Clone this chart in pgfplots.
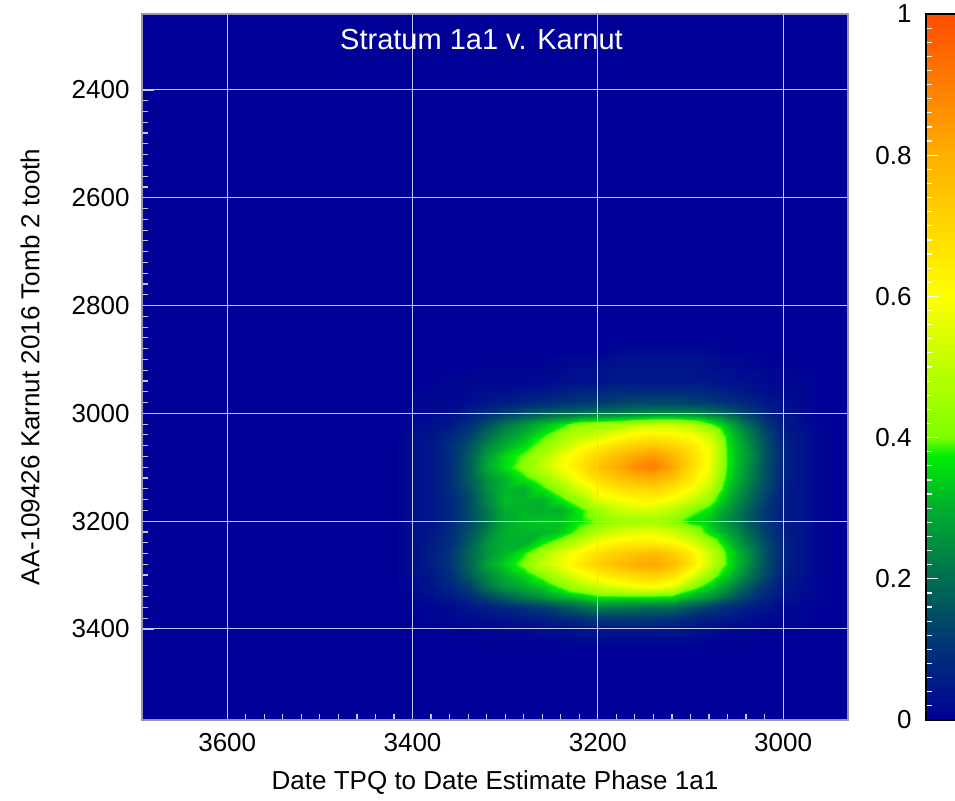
\documentclass[border=0pt]{standalone}
\usepackage{fontspec}
\setmainfont{Liberation Sans}
\usepackage{pgfplots}
\pgfplotsset{compat=1.18}
\definecolor{bg}{RGB}{0,0,150}
\definecolor{gridc}{RGB}{200,200,255}
\definecolor{framec}{RGB}{150,150,180}
\pgfplotsset{
  every tick label/.append style={font=\fontsize{13}{15}\selectfont},
  /pgf/number format/assume math mode=true,
  /pgf/number format/1000 sep={},
  colormap={oxcal}{
    rgb255=(0,0,150) rgb255=(0,13,143) rgb255=(0,25,135) rgb255=(0,38,128)
    rgb255=(0,50,120) rgb255=(0,65,110) rgb255=(0,80,100) rgb255=(0,95,90)
    rgb255=(0,110,80) rgb255=(0,126,71) rgb255=(0,143,63) rgb255=(0,159,54)
    rgb255=(0,175,45) rgb255=(0,193,33) rgb255=(0,216,19) rgb255=(0,237,5)
    rgb255=(126,255,0) rgb255=(142,255,0) rgb255=(158,255,0) rgb255=(174,255,0)
    rgb255=(190,255,0) rgb255=(206,255,0) rgb255=(223,255,0) rgb255=(239,255,0)
    rgb255=(255,255,0) rgb255=(255,245,0) rgb255=(255,235,0) rgb255=(255,225,0)
    rgb255=(255,215,0) rgb255=(255,205,0) rgb255=(255,195,0) rgb255=(255,185,0)
    rgb255=(255,175,0) rgb255=(255,163,0) rgb255=(255,150,0) rgb255=(255,138,0)
    rgb255=(255,125,0) rgb255=(255,113,0) rgb255=(255,100,0) rgb255=(255,88,0)
    rgb255=(255,75,0)},
}
\begin{document}
\begin{tikzpicture}
\begin{axis}[
  scale only axis, width=353pt, height=353pt,
  x dir=reverse, y dir=reverse,
  xmin=2930, xmax=3692, ymin=2259, ymax=3569,
  enlargelimits=false,
  axis on top,
  axis background/.style={fill=bg},
  xtick={3000,3200,3400,3600}, ytick={2400,2600,2800,3000,3200,3400},
  minor x tick num=9, minor y tick num=9,
  xtick pos=bottom, ytick pos=left, tick align=inside,
  major tick length=6pt, minor tick length=3pt,
  every tick/.style={draw=gridc, line width=0.6pt},
  grid=major, major grid style={draw=gridc, line width=0.5pt},
  axis line style={draw=framec, line width=0.6pt},
  xticklabel style={yshift=-3pt},
  yticklabel style={xshift=-2.7pt},
  xlabel={Date TPQ to Date Estimate Phase 1a1},
  ylabel={AA-109426 Karnut 2016 Tomb 2 tooth},
  xlabel style={at={([yshift=-31.5pt]axis description cs:0.5,0)}, anchor=center, font=\fontsize{13}{15}\selectfont},
  ylabel style={at={([xshift=-56pt]axis description cs:0,0.5)}, anchor=center, font=\fontsize{13}{15}\selectfont},
  title={Stratum 1a1 v. Karnut},
  title style={at={([yshift=-24pt]axis description cs:0.4809,1)}, anchor=base, text=white, font=\fontsize{14.5}{16}\selectfont},
  colormap name=oxcal, point meta min=0, point meta max=1,
  colorbar right,
  colorbar style={
    at={(parent axis.north east)}, anchor=north west, xshift=30.5pt,
    scale only axis, width=24pt, height=353pt,
    ytick={0,0.2,0.4,0.6,0.8,1}, minor y tick num=9,
    ytick pos=left, yticklabel pos=left, tick align=inside,
    major tick length=6pt, minor tick length=3pt,
    every tick/.style={draw=white, line width=0.6pt},
    yticklabel style={xshift=-3.7pt},
    axis line style={draw=black, line width=0.6pt},
  },
]
\addplot[surf, shader=interp, mesh/cols=25, point meta=explicit] coordinates {
(3420,2860)[0] (3400,2860)[0] (3380,2860)[0] (3360,2860)[0] (3340,2860)[0] (3320,2860)[0] (3300,2860)[0] (3280,2860)[0] (3260,2860)[0] (3240,2860)[0] (3220,2860)[0] (3200,2860)[0] (3180,2860)[0] (3160,2860)[0] (3140,2860)[0] (3120,2860)[0] (3100,2860)[0] (3080,2860)[0] (3060,2860)[0] (3040,2860)[0] (3020,2860)[0] (3000,2860)[0] (2980,2860)[0] (2960,2860)[0] (2940,2860)[0]
(3420,2880)[0] (3400,2880)[0] (3380,2880)[0] (3360,2880)[0] (3340,2880)[0] (3320,2880)[0] (3300,2880)[0] (3280,2880)[0] (3260,2880)[0] (3240,2880)[0] (3220,2880)[0] (3200,2880)[0] (3180,2880)[0.015] (3160,2880)[0.015] (3140,2880)[0.015] (3120,2880)[0.015] (3100,2880)[0.015] (3080,2880)[0.015] (3060,2880)[0] (3040,2880)[0] (3020,2880)[0] (3000,2880)[0] (2980,2880)[0] (2960,2880)[0] (2940,2880)[0]
(3420,2900)[0] (3400,2900)[0] (3380,2900)[0] (3360,2900)[0] (3340,2900)[0] (3320,2900)[0] (3300,2900)[0] (3280,2900)[0] (3260,2900)[0] (3240,2900)[0.015] (3220,2900)[0.015] (3200,2900)[0.015] (3180,2900)[0.03] (3160,2900)[0.03] (3140,2900)[0.03] (3120,2900)[0.03] (3100,2900)[0.03] (3080,2900)[0.03] (3060,2900)[0.015] (3040,2900)[0.015] (3020,2900)[0] (3000,2900)[0] (2980,2900)[0] (2960,2900)[0] (2940,2900)[0]
(3420,2920)[0] (3400,2920)[0] (3380,2920)[0] (3360,2920)[0] (3340,2920)[0] (3320,2920)[0.015] (3300,2920)[0.015] (3280,2920)[0.015] (3260,2920)[0.015] (3240,2920)[0.015] (3220,2920)[0.03] (3200,2920)[0.03] (3180,2920)[0.045] (3160,2920)[0.045] (3140,2920)[0.045] (3120,2920)[0.045] (3100,2920)[0.045] (3080,2920)[0.03] (3060,2920)[0.03] (3040,2920)[0.015] (3020,2920)[0.015] (3000,2920)[0.015] (2980,2920)[0] (2960,2920)[0] (2940,2920)[0]
(3420,2940)[0] (3400,2940)[0] (3380,2940)[0] (3360,2940)[0.015] (3340,2940)[0.015] (3320,2940)[0.015] (3300,2940)[0.015] (3280,2940)[0.015] (3260,2940)[0.015] (3240,2940)[0.03] (3220,2940)[0.03] (3200,2940)[0.03] (3180,2940)[0.045] (3160,2940)[0.045] (3140,2940)[0.045] (3120,2940)[0.045] (3100,2940)[0.045] (3080,2940)[0.045] (3060,2940)[0.03] (3040,2940)[0.03] (3020,2940)[0.015] (3000,2940)[0.015] (2980,2940)[0.015] (2960,2940)[0] (2940,2940)[0]
(3420,2960)[0] (3400,2960)[0] (3380,2960)[0.015] (3360,2960)[0.015] (3340,2960)[0.015] (3320,2960)[0.03] (3300,2960)[0.03] (3280,2960)[0.045] (3260,2960)[0.045] (3240,2960)[0.06] (3220,2960)[0.075] (3200,2960)[0.075] (3180,2960)[0.09] (3160,2960)[0.09] (3140,2960)[0.09] (3120,2960)[0.09] (3100,2960)[0.09] (3080,2960)[0.075] (3060,2960)[0.06] (3040,2960)[0.045] (3020,2960)[0.03] (3000,2960)[0.015] (2980,2960)[0.015] (2960,2960)[0] (2940,2960)[0]
(3420,2980)[0] (3400,2980)[0.015] (3380,2980)[0.015] (3360,2980)[0.015] (3340,2980)[0.03] (3320,2980)[0.045] (3300,2980)[0.06] (3280,2980)[0.075] (3260,2980)[0.09] (3240,2980)[0.10] (3220,2980)[0.11] (3200,2980)[0.12] (3180,2980)[0.13] (3160,2980)[0.14] (3140,2980)[0.14] (3120,2980)[0.14] (3100,2980)[0.13] (3080,2980)[0.12] (3060,2980)[0.10] (3040,2980)[0.08] (3020,2980)[0.05] (3000,2980)[0.03] (2980,2980)[0.015] (2960,2980)[0] (2940,2980)[0]
(3420,3000)[0] (3400,3000)[0.015] (3380,3000)[0.015] (3360,3000)[0.03] (3340,3000)[0.06] (3320,3000)[0.09] (3300,3000)[0.12] (3280,3000)[0.15] (3260,3000)[0.17] (3240,3000)[0.19] (3220,3000)[0.20] (3200,3000)[0.21] (3180,3000)[0.22] (3160,3000)[0.23] (3140,3000)[0.24] (3120,3000)[0.24] (3100,3000)[0.23] (3080,3000)[0.21] (3060,3000)[0.17] (3040,3000)[0.12] (3020,3000)[0.07] (3000,3000)[0.04] (2980,3000)[0.025] (2960,3000)[0] (2940,3000)[0]
(3420,3020)[0] (3400,3020)[0.015] (3380,3020)[0.03] (3360,3020)[0.045] (3340,3020)[0.09] (3320,3020)[0.15] (3300,3020)[0.21] (3280,3020)[0.26] (3260,3020)[0.31] (3240,3020)[0.36] (3220,3020)[0.43] (3200,3020)[0.44] (3180,3020)[0.46] (3160,3020)[0.49] (3140,3020)[0.51] (3120,3020)[0.51] (3100,3020)[0.48] (3080,3020)[0.40] (3060,3020)[0.30] (3040,3020)[0.20] (3020,3020)[0.11] (3000,3020)[0.05] (2980,3020)[0.025] (2960,3020)[0.01] (2940,3020)[0]
(3420,3040)[0] (3400,3040)[0.03] (3380,3040)[0.045] (3360,3040)[0.075] (3340,3040)[0.12] (3320,3040)[0.20] (3300,3040)[0.26] (3280,3040)[0.31] (3260,3040)[0.374] (3240,3040)[0.445] (3220,3040)[0.49] (3200,3040)[0.53] (3180,3040)[0.58] (3160,3040)[0.62] (3140,3040)[0.64] (3120,3040)[0.62] (3100,3040)[0.60] (3080,3040)[0.52] (3060,3040)[0.35] (3040,3040)[0.245] (3020,3040)[0.14] (3000,3040)[0.06] (2980,3040)[0.037] (2960,3040)[0.01] (2940,3040)[0]
(3420,3060)[0] (3400,3060)[0.03] (3380,3060)[0.045] (3360,3060)[0.09] (3340,3060)[0.15] (3320,3060)[0.24] (3300,3060)[0.30] (3280,3060)[0.358] (3260,3060)[0.42] (3240,3060)[0.50] (3220,3060)[0.58] (3200,3060)[0.64] (3180,3060)[0.69] (3160,3060)[0.73] (3140,3060)[0.75] (3120,3060)[0.71] (3100,3060)[0.66] (3080,3060)[0.58] (3060,3060)[0.367] (3040,3060)[0.265] (3020,3060)[0.15] (3000,3060)[0.075] (2980,3060)[0.037] (2960,3060)[0.01] (2940,3060)[0]
(3420,3080)[0] (3400,3080)[0.03] (3380,3080)[0.045] (3360,3080)[0.09] (3340,3080)[0.165] (3320,3080)[0.275] (3300,3080)[0.355] (3280,3080)[0.40] (3260,3080)[0.48] (3240,3080)[0.57] (3220,3080)[0.64] (3200,3080)[0.71] (3180,3080)[0.77] (3160,3080)[0.82] (3140,3080)[0.85] (3120,3080)[0.79] (3100,3080)[0.69] (3080,3080)[0.59] (3060,3080)[0.37] (3040,3080)[0.275] (3020,3080)[0.16] (3000,3080)[0.075] (2980,3080)[0.037] (2960,3080)[0.01] (2940,3080)[0]
(3420,3100)[0] (3400,3100)[0.03] (3380,3100)[0.045] (3360,3100)[0.09] (3340,3100)[0.165] (3320,3100)[0.29] (3300,3100)[0.36] (3280,3100)[0.42] (3260,3100)[0.50] (3240,3100)[0.59] (3220,3100)[0.66] (3200,3100)[0.75] (3180,3100)[0.80] (3160,3100)[0.87] (3140,3100)[0.90] (3120,3100)[0.82] (3100,3100)[0.70] (3080,3100)[0.58] (3060,3100)[0.37] (3040,3100)[0.265] (3020,3100)[0.15] (3000,3100)[0.075] (2980,3100)[0.037] (2960,3100)[0.01] (2940,3100)[0]
(3420,3120)[0] (3400,3120)[0.03] (3380,3120)[0.045] (3360,3120)[0.09] (3340,3120)[0.165] (3320,3120)[0.26] (3300,3120)[0.31] (3280,3120)[0.372] (3260,3120)[0.427] (3240,3120)[0.52] (3220,3120)[0.61] (3200,3120)[0.69] (3180,3120)[0.74] (3160,3120)[0.78] (3140,3120)[0.80] (3120,3120)[0.75] (3100,3120)[0.66] (3080,3120)[0.55] (3060,3120)[0.355] (3040,3120)[0.255] (3020,3120)[0.15] (3000,3120)[0.075] (2980,3120)[0.037] (2960,3120)[0.01] (2940,3120)[0]
(3420,3140)[0] (3400,3140)[0.03] (3380,3140)[0.045] (3360,3140)[0.09] (3340,3140)[0.15] (3320,3140)[0.25] (3300,3140)[0.31] (3280,3140)[0.30] (3260,3140)[0.367] (3240,3140)[0.437] (3220,3140)[0.53] (3200,3140)[0.62] (3180,3140)[0.66] (3160,3140)[0.69] (3140,3140)[0.70] (3120,3140)[0.66] (3100,3140)[0.60] (3080,3140)[0.50] (3060,3140)[0.33] (3040,3140)[0.23] (3020,3140)[0.14] (3000,3140)[0.06] (2980,3140)[0.037] (2960,3140)[0.01] (2940,3140)[0]
(3420,3160)[0] (3400,3160)[0.03] (3380,3160)[0.045] (3360,3160)[0.075] (3340,3160)[0.135] (3320,3160)[0.235] (3300,3160)[0.32] (3280,3160)[0.31] (3260,3160)[0.30] (3240,3160)[0.367] (3220,3160)[0.437] (3200,3160)[0.55] (3180,3160)[0.58] (3160,3160)[0.61] (3140,3160)[0.62] (3120,3160)[0.58] (3100,3160)[0.52] (3080,3160)[0.43] (3060,3160)[0.30] (3040,3160)[0.21] (3020,3160)[0.125] (3000,3160)[0.06] (2980,3160)[0.037] (2960,3160)[0.01] (2940,3160)[0]
(3420,3180)[0] (3400,3180)[0.03] (3380,3180)[0.045] (3360,3180)[0.075] (3340,3180)[0.135] (3320,3180)[0.22] (3300,3180)[0.30] (3280,3180)[0.31] (3260,3180)[0.30] (3240,3180)[0.30] (3220,3180)[0.367] (3200,3180)[0.44] (3180,3180)[0.51] (3160,3180)[0.53] (3140,3180)[0.53] (3120,3180)[0.49] (3100,3180)[0.42] (3080,3180)[0.36] (3060,3180)[0.265] (3040,3180)[0.185] (3020,3180)[0.11] (3000,3180)[0.06] (2980,3180)[0.037] (2960,3180)[0.01] (2940,3180)[0]
(3420,3200)[0] (3400,3200)[0.03] (3380,3200)[0.045] (3360,3200)[0.075] (3340,3200)[0.135] (3320,3200)[0.21] (3300,3200)[0.29] (3280,3200)[0.32] (3260,3200)[0.33] (3240,3200)[0.33] (3220,3200)[0.367] (3200,3200)[0.40] (3180,3200)[0.44] (3160,3200)[0.45] (3140,3200)[0.46] (3120,3200)[0.42] (3100,3200)[0.36] (3080,3200)[0.33] (3060,3200)[0.245] (3040,3200)[0.175] (3020,3200)[0.11] (3000,3200)[0.06] (2980,3200)[0.037] (2960,3200)[0.01] (2940,3200)[0]
(3420,3220)[0] (3400,3220)[0.03] (3380,3220)[0.045] (3360,3220)[0.09] (3340,3220)[0.15] (3320,3220)[0.235] (3300,3220)[0.30] (3280,3220)[0.31] (3260,3220)[0.31] (3240,3220)[0.34] (3220,3220)[0.41] (3200,3220)[0.49] (3180,3220)[0.54] (3160,3220)[0.56] (3140,3220)[0.57] (3120,3220)[0.53] (3100,3220)[0.46] (3080,3220)[0.36] (3060,3220)[0.285] (3040,3220)[0.20] (3020,3220)[0.125] (3000,3220)[0.06] (2980,3220)[0.037] (2960,3220)[0.01] (2940,3220)[0]
(3420,3240)[0] (3400,3240)[0.03] (3380,3240)[0.06] (3360,3240)[0.09] (3340,3240)[0.165] (3320,3240)[0.26] (3300,3240)[0.30] (3280,3240)[0.301] (3260,3240)[0.371] (3240,3240)[0.441] (3220,3240)[0.52] (3200,3240)[0.60] (3180,3240)[0.63] (3160,3240)[0.65] (3140,3240)[0.65] (3120,3240)[0.62] (3100,3240)[0.56] (3080,3240)[0.45] (3060,3240)[0.33] (3040,3240)[0.23] (3020,3240)[0.14] (3000,3240)[0.075] (2980,3240)[0.037] (2960,3240)[0.01] (2940,3240)[0]
(3420,3260)[0] (3400,3260)[0.03] (3380,3260)[0.06] (3360,3260)[0.105] (3340,3260)[0.18] (3320,3260)[0.26] (3300,3260)[0.31] (3280,3260)[0.378] (3260,3260)[0.46] (3240,3260)[0.55] (3220,3260)[0.62] (3200,3260)[0.68] (3180,3260)[0.72] (3160,3260)[0.75] (3140,3260)[0.77] (3120,3260)[0.73] (3100,3260)[0.65] (3080,3260)[0.52] (3060,3260)[0.367] (3040,3260)[0.265] (3020,3260)[0.15] (3000,3260)[0.075] (2980,3260)[0.037] (2960,3260)[0.01] (2940,3260)[0]
(3420,3280)[0] (3400,3280)[0.03] (3380,3280)[0.06] (3360,3280)[0.105] (3340,3280)[0.18] (3320,3280)[0.28] (3300,3280)[0.345] (3280,3280)[0.41] (3260,3280)[0.51] (3240,3280)[0.57] (3220,3280)[0.65] (3200,3280)[0.72] (3180,3280)[0.76] (3160,3280)[0.80] (3140,3280)[0.82] (3120,3280)[0.77] (3100,3280)[0.67] (3080,3280)[0.53] (3060,3280)[0.37] (3040,3280)[0.265] (3020,3280)[0.15] (3000,3280)[0.075] (2980,3280)[0.037] (2960,3280)[0.01] (2940,3280)[0]
(3420,3300)[0] (3400,3300)[0.03] (3380,3300)[0.045] (3360,3300)[0.09] (3340,3300)[0.165] (3320,3300)[0.24] (3300,3300)[0.30] (3280,3300)[0.35] (3260,3300)[0.413] (3240,3300)[0.50] (3220,3300)[0.57] (3200,3300)[0.63] (3180,3300)[0.67] (3160,3300)[0.70] (3140,3300)[0.72] (3120,3300)[0.68] (3100,3300)[0.57] (3080,3300)[0.44] (3060,3300)[0.33] (3040,3300)[0.23] (3020,3300)[0.14] (3000,3300)[0.06] (2980,3300)[0.037] (2960,3300)[0.01] (2940,3300)[0]
(3420,3320)[0] (3400,3320)[0.015] (3380,3320)[0.045] (3360,3320)[0.075] (3340,3320)[0.12] (3320,3320)[0.21] (3300,3320)[0.27] (3280,3320)[0.30] (3260,3320)[0.336] (3240,3320)[0.406] (3220,3320)[0.476] (3200,3320)[0.52] (3180,3320)[0.56] (3160,3320)[0.59] (3140,3320)[0.61] (3120,3320)[0.57] (3100,3320)[0.44] (3080,3320)[0.35] (3060,3320)[0.265] (3040,3320)[0.175] (3020,3320)[0.10] (3000,3320)[0.05] (2980,3320)[0.025] (2960,3320)[0.01] (2940,3320)[0]
(3420,3340)[0] (3400,3340)[0.012] (3380,3340)[0.025] (3360,3340)[0.05] (3340,3340)[0.075] (3320,3340)[0.125] (3300,3340)[0.175] (3280,3340)[0.22] (3260,3340)[0.255] (3240,3340)[0.30] (3220,3340)[0.33] (3200,3340)[0.37] (3180,3340)[0.37] (3160,3340)[0.37] (3140,3340)[0.37] (3120,3340)[0.36] (3100,3340)[0.30] (3080,3340)[0.265] (3060,3340)[0.185] (3040,3340)[0.125] (3020,3340)[0.075] (3000,3340)[0.037] (2980,3340)[0.025] (2960,3340)[0.01] (2940,3340)[0]
(3420,3360)[0] (3400,3360)[0.01] (3380,3360)[0.01] (3360,3360)[0.02] (3340,3360)[0.04] (3320,3360)[0.06] (3300,3360)[0.08] (3280,3360)[0.10] (3260,3360)[0.12] (3240,3360)[0.15] (3220,3360)[0.19] (3200,3360)[0.23] (3180,3360)[0.22] (3160,3360)[0.21] (3140,3360)[0.20] (3120,3360)[0.20] (3100,3360)[0.16] (3080,3360)[0.12] (3060,3360)[0.09] (3040,3360)[0.06] (3020,3360)[0.04] (3000,3360)[0.02] (2980,3360)[0.01] (2960,3360)[0] (2940,3360)[0]
(3420,3380)[0] (3400,3380)[0] (3380,3380)[0.01] (3360,3380)[0.01] (3340,3380)[0.02] (3320,3380)[0.03] (3300,3380)[0.04] (3280,3380)[0.05] (3260,3380)[0.06] (3240,3380)[0.08] (3220,3380)[0.09] (3200,3380)[0.11] (3180,3380)[0.11] (3160,3380)[0.11] (3140,3380)[0.11] (3120,3380)[0.10] (3100,3380)[0.08] (3080,3380)[0.06] (3060,3380)[0.05] (3040,3380)[0.03] (3020,3380)[0.02] (3000,3380)[0.01] (2980,3380)[0.01] (2960,3380)[0] (2940,3380)[0]
(3420,3400)[0] (3400,3400)[0] (3380,3400)[0] (3360,3400)[0.01] (3340,3400)[0.01] (3320,3400)[0.01] (3300,3400)[0.02] (3280,3400)[0.02] (3260,3400)[0.03] (3240,3400)[0.03] (3220,3400)[0.04] (3200,3400)[0.05] (3180,3400)[0.05] (3160,3400)[0.05] (3140,3400)[0.05] (3120,3400)[0.05] (3100,3400)[0.04] (3080,3400)[0.03] (3060,3400)[0.02] (3040,3400)[0.02] (3020,3400)[0.01] (3000,3400)[0.01] (2980,3400)[0] (2960,3400)[0] (2940,3400)[0]
(3420,3420)[0] (3400,3420)[0] (3380,3420)[0] (3360,3420)[0] (3340,3420)[0] (3320,3420)[0.01] (3300,3420)[0.01] (3280,3420)[0.01] (3260,3420)[0.01] (3240,3420)[0.01] (3220,3420)[0.02] (3200,3420)[0.02] (3180,3420)[0.02] (3160,3420)[0.02] (3140,3420)[0.02] (3120,3420)[0.02] (3100,3420)[0.02] (3080,3420)[0.01] (3060,3420)[0.01] (3040,3420)[0.01] (3020,3420)[0] (3000,3420)[0] (2980,3420)[0] (2960,3420)[0] (2940,3420)[0]
(3420,3440)[0] (3400,3440)[0] (3380,3440)[0] (3360,3440)[0] (3340,3440)[0] (3320,3440)[0] (3300,3440)[0] (3280,3440)[0] (3260,3440)[0] (3240,3440)[0] (3220,3440)[0] (3200,3440)[0] (3180,3440)[0] (3160,3440)[0] (3140,3440)[0] (3120,3440)[0] (3100,3440)[0] (3080,3440)[0] (3060,3440)[0] (3040,3440)[0] (3020,3440)[0] (3000,3440)[0] (2980,3440)[0] (2960,3440)[0] (2940,3440)[0]
};
\end{axis}
\pgfresetboundingbox
\useasboundingbox (-71pt,-40.5pt) rectangle (406.5pt,360pt);
\end{tikzpicture}
\end{document}
